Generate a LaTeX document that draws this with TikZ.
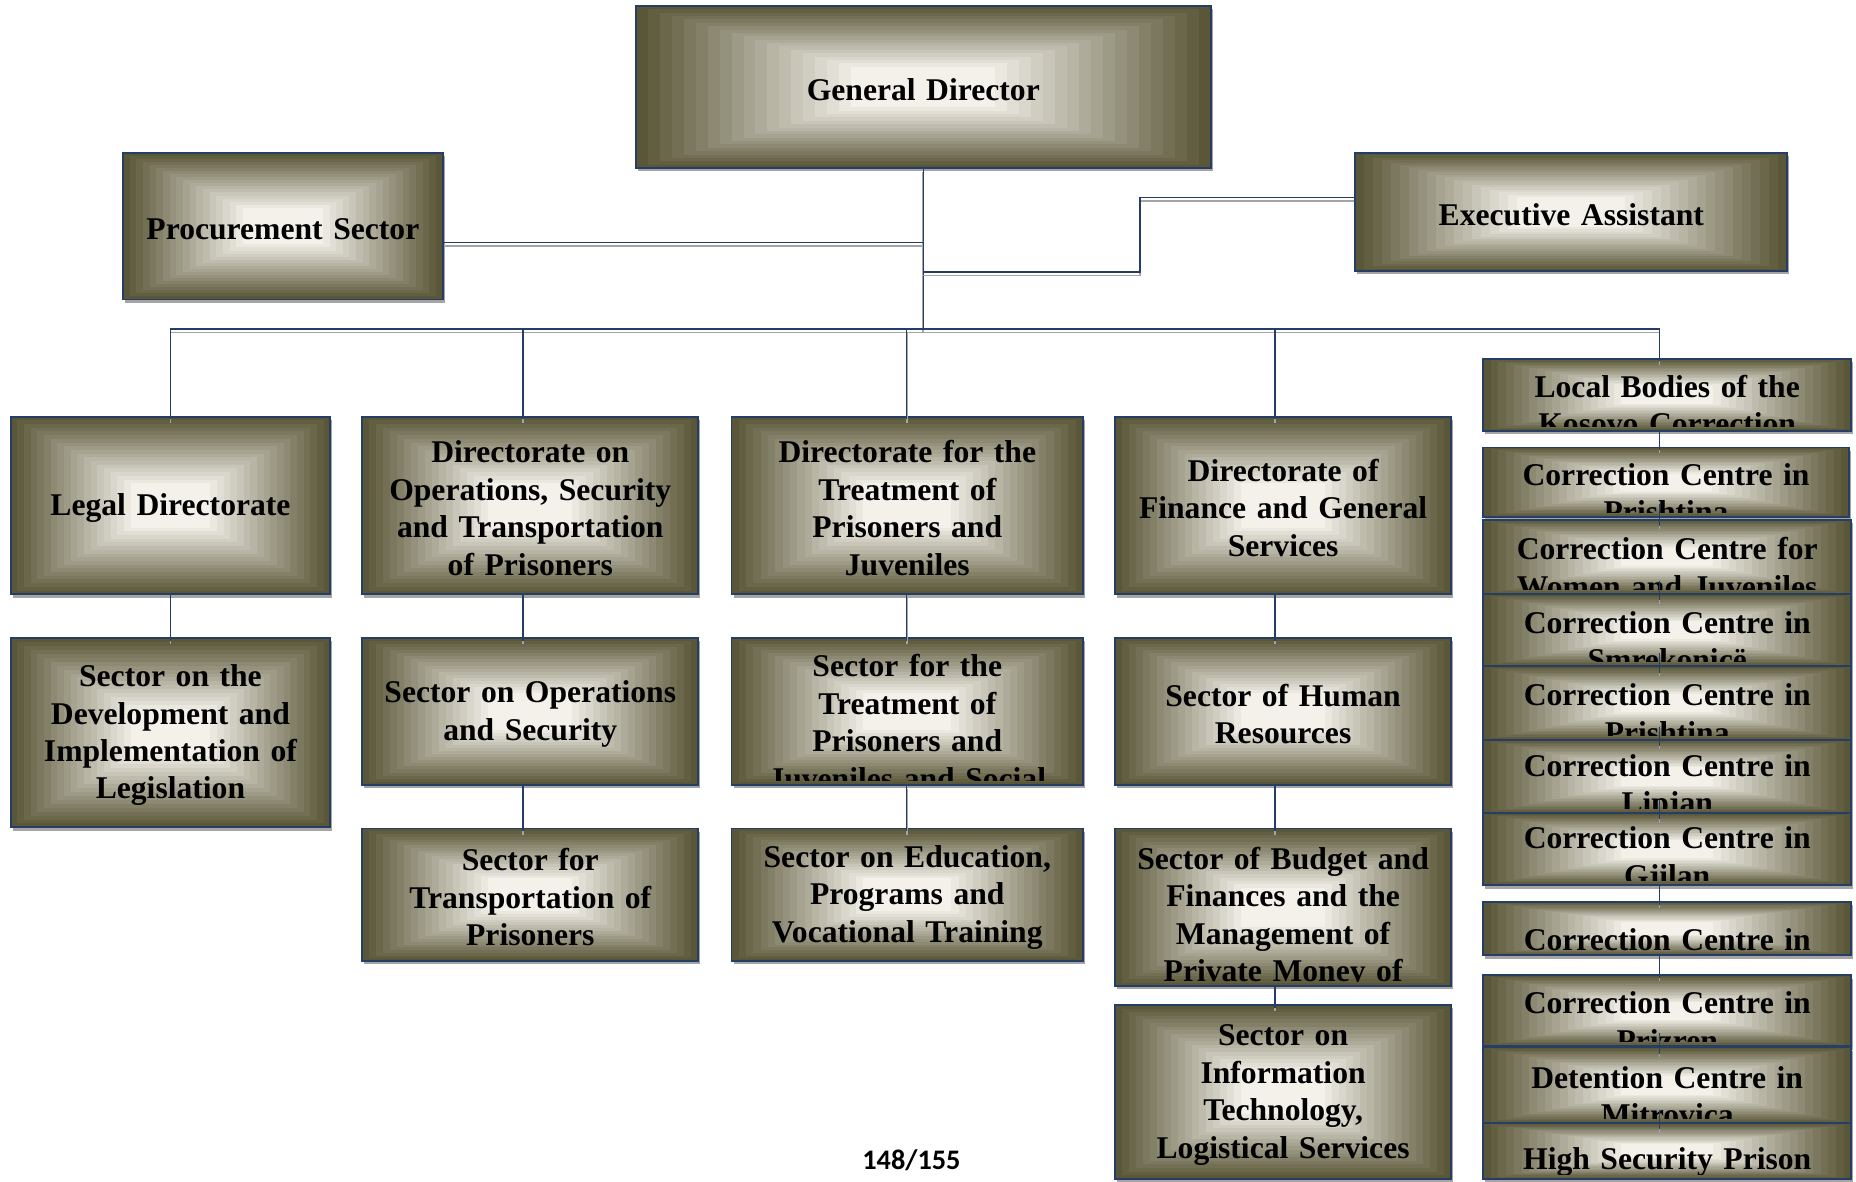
\documentclass[tikz,border=0pt]{standalone}
\usepackage{fontspec}
\setmainfont{Liberation Serif}
\newfontfamily\pagefont{Carlito}
\usetikzlibrary{calc,fit,shadows}

\definecolor{glowdark}{RGB}{90,86,56}
\definecolor{glowlight}{RGB}{243,241,234}
\definecolor{lineblue}{RGB}{36,62,102}
\definecolor{shadowgray}{RGB}{165,165,165}

\newcommand\boxfont{\fontsize{19}{22.5}\selectfont\bfseries}

% rectangular glow, banded from the border to the centre
\newcommand\glowfill{%
  \foreach \k in {0,...,23}{%
    \pgfmathsetmacro\gfrac{1-\k/24}%
    \pgfmathtruncatemacro\gmix{min(100,\k*100/18)}%
    \fill[glowlight!\gmix!glowdark]
      ($(path picture bounding box.center)!\gfrac!(path picture bounding box.south west)$)
      rectangle
      ($(path picture bounding box.center)!\gfrac!(path picture bounding box.north east)$);
  }}

\tikzset{
  boxtext/.style={font=\boxfont, align=center, inner sep=0pt, text=black},
  orgbase/.style={draw=lineblue, line width=1.1pt, inner sep=0pt,
    drop shadow={shadow xshift=1.2pt, shadow yshift=-2pt, fill=shadowgray, opacity=1}},
  midbox/.style={orgbase, path picture={\glowfill
      \node[boxtext] at ($(path picture bounding box.center)+(0,11.5)$) {#1};}},
  topbox/.style={orgbase, path picture={\glowfill
      \clip (path picture bounding box.north west) rectangle ($(path picture bounding box.south east)+(0,-4)$);
      \node[boxtext, anchor=north] at ($(path picture bounding box.north)+(0,17.5)$) {#1};}},
  link/.style={draw=lineblue, line width=0.9pt,
    preaction={draw=shadowgray, line width=1pt, transform canvas={yshift=-2pt}}},
}

\begin{document}
\begin{tikzpicture}[x=0.025cm,y=-0.025cm]

\fill[white] (0,0) rectangle (1568,998);
\useasboundingbox (0,0) rectangle (1568,998);

% top level
\node[midbox={General Director}, fit={(537,5) (1023,142)}] (gd) {};
\node[midbox={Procurement Sector}, fit={(104,129) (374,253)}] (proc) {};
\node[midbox={Executive Assistant}, fit={(1145,129) (1510,229)}] (ea) {};

% directorates
\node[midbox={Legal Directorate}, fit={(9,352) (279,502)}] (legal) {};
\node[midbox={Directorate on\\Operations, Security\\and Transportation\\of Prisoners}, fit={(306,352) (590,502)}] (ops) {};
\node[midbox={Directorate for the\\Treatment of\\Prisoners and\\Juveniles}, fit={(618,352) (915,502)}] (treat) {};
\node[midbox={Directorate of\\Finance and General\\Services}, fit={(942,352) (1226,502)}] (fin) {};

% sectors
\node[midbox={Sector on the\\Development and\\Implementation of\\Legislation}, fit={(9,539) (279,699)}] (legsec) {};
\node[midbox={Sector on Operations\\and Security}, fit={(306,539) (590,663)}] (opssec) {};
\node[topbox={Sector for the\\Treatment of\\Prisoners and\\Juveniles and Social}, fit={(618,539) (915,663)}] (treatsec) {};
\node[midbox={Sector of Human\\Resources}, fit={(942,539) (1226,663)}] (hr) {};

\node[midbox={Sector for\\Transportation of\\Prisoners}, fit={(306,700) (590,812)}] (transp) {};
\node[midbox={Sector on Education,\\Programs and\\Vocational Training}, fit={(618,700) (915,812)}] (edu) {};
\node[topbox={Sector of Budget and\\Finances and the\\Management of\\Private Money of}, fit={(942,700) (1226,833)}] (budget) {};
\node[midbox={Sector on\\Information\\Technology,\\Logistical Services}, fit={(942,849) (1226,996)}] (it) {};

% local bodies column
\node[topbox={Local Bodies of the\\Kosovo Correction}, fit={(1253,303) (1564,364)}] (r1) {};
\node[topbox={Correction Centre in\\Prishtina}, fit={(1253,378) (1562,437)}] (r2) {};
\node[topbox={Correction Centre for\\Women and Juveniles}, fit={(1253,439) (1564,502)}] (r3) {};
\node[topbox={Correction Centre in\\Smrekonicë}, fit={(1253,502) (1564,563)}] (r4) {};
\node[topbox={Correction Centre in\\Prishtina}, fit={(1253,563) (1564,625)}] (r5) {};
\node[topbox={Correction Centre in\\Lipjan}, fit={(1253,625) (1564,687)}] (r6) {};
\node[topbox={Correction Centre in\\Gjilan}, fit={(1253,687) (1564,748)}] (r7) {};
\node[topbox={Correction Centre in}, fit={(1253,762) (1564,807)}] (r8) {};
\node[topbox={Correction Centre in\\Prizren}, fit={(1253,824) (1564,884)}] (r9) {};
\node[topbox={Detention Centre in\\Mitrovica}, fit={(1253,885) (1564,949)}] (r10) {};
\node[topbox={High Security Prison}, fit={(1253,949) (1564,996)}] (r11) {};

% junctions and column lines
\coordinate (bus) at (780,278);
\coordinate (jp) at (780,205);
\coordinate (je) at (780,230);
\coordinate (ek) at (963,167);
\coordinate (c1) at (144,0);
\coordinate (c2) at (442,0);
\coordinate (c3) at (766,0);
\coordinate (c4) at (1077,0);
\coordinate (c5) at (1402,0);

% connectors at the top
\draw[link] (gd.south) -- (bus);
\draw[link] (proc.east |- jp) -- (jp);
\draw[link] (ea.west |- ek) -- (ek) -- (ek |- je) -- (je);
\draw[link] (c1 |- bus) -- (c5 |- bus);
\foreach \c/\b in {c1/legal, c2/ops, c3/treat, c4/fin, c5/r1}
  \draw[link] (\c |- bus) -- ($(\c |- \b.north)+(0,3)$);

% connectors in the columns
\foreach \c/\a/\b in {c1/legal/legsec, c2/ops/opssec, c2/opssec/transp,
    c3/treat/treatsec, c3/treatsec/edu, c4/fin/hr, c4/hr/budget, c4/budget/it,
    c5/r1/r2, c5/r7/r8, c5/r8/r9}
  \draw[link] (\c |- \a.south) -- ($(\c |- \b.north)+(0,3)$);
\foreach \a/\b in {r2/r3, r3/r4, r4/r5, r5/r6, r6/r7, r9/r10, r10/r11}
  \draw[link] ($(c5 |- \a.south)+(0,-12)$) -- ($(c5 |- \b.north)+(0,6)$);

% page number
\node[font=\pagefont\bfseries\fontsize{17}{20}\selectfont] (page) at (770,980) {148/155};

\end{tikzpicture}
\end{document}
